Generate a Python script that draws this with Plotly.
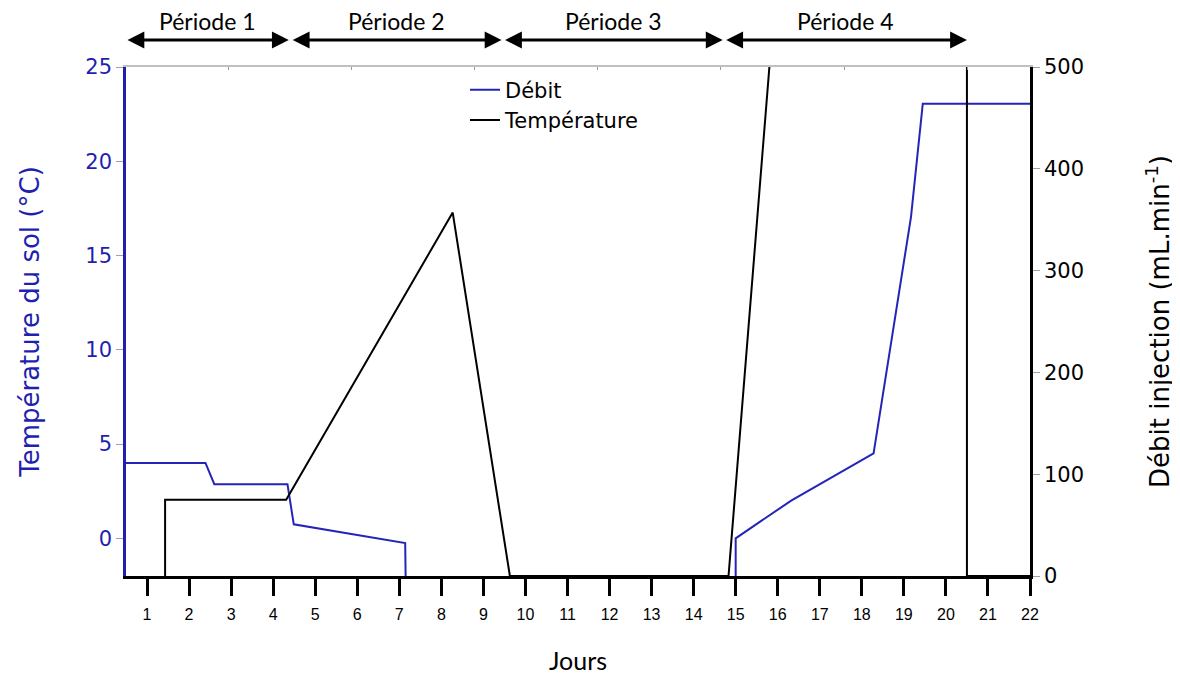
import plotly.graph_objects as go

# ---- data ----
days = list(range(1, 23))
debit_x = [0.5, 2.39, 2.60, 4.34, 4.49, 7.14, 7.15, None, 15.0, 15.0, 16.32, 18.28, 19.17, 19.45, 22]
debit_y = [4.0, 4.0, 2.87, 2.87, 0.74, -0.25, -2.0, None, -2.0, 0.0, 2.0, 4.5, 17.05, 23.05, 23.05]
temp_x = [1.43, 1.43, 4.31, 8.27, 9.63, 14.83, 15.86, 20.5, 20.5, 22]
temp_y = [0, 75, 75, 357, 0, 0, 530, 530, 0, 0]
period_labels = ["Période 1", "Période 2", "Période 3", "Période 4"]
period_start = [0.5, 4.43, 9.48, 14.74]
period_end = [4.37, 9.43, 14.69, 20.5]
top_ticks = [2.93, 5.86, 8.79, 11.72, 14.65, 17.58, 20.51]

BLUE = "#1f1fb0"
fig = go.Figure()
fig.add_trace(go.Scatter(x=debit_x, y=debit_y, mode="lines", name="Débit",
                         line=dict(color="#2424b8", width=2), yaxis="y", connectgaps=False))
fig.add_trace(go.Scatter(x=temp_x, y=temp_y, mode="lines", name="Température",
                         line=dict(color="black", width=2), yaxis="y2"))
# dummy trace for top border axis
fig.add_trace(go.Scatter(x=[1], y=[None], xaxis="x2", yaxis="y", showlegend=False,
                         hoverinfo="skip"))

annotations = []
for lab, s, e in zip(period_labels, period_start, period_end):
    annotations.append(dict(x=e, y=1.053, xref="x", yref="paper", ax=s, ay=0,
                            axref="x", ayref="pixel", text="", showarrow=True,
                            arrowhead=2, arrowside="end+start", arrowsize=1.2,
                            arrowwidth=2.8, arrowcolor="black", standoff=0, startstandoff=0))
    annotations.append(dict(x=(s + e) / 2, y=1.09, xref="x", yref="paper", text=lab,
                            xanchor="center", yanchor="middle", showarrow=False,
                            font=dict(family="Lato", size=23, color="black")))

fig.update_layout(
    width=1180, height=681,
    margin=dict(l=118, r=158, t=59, b=113),
    plot_bgcolor="white", paper_bgcolor="white",
    showlegend=True,
    legend=dict(x=0.375, y=0.995, xanchor="left", yanchor="top", bgcolor="rgba(0,0,0,0)",
                font=dict(family="DejaVu Sans", size=21, color="black"),
                itemwidth=30, tracegroupgap=0),
    xaxis=dict(range=[0.5, 22], tickvals=days, ticks="outside", ticklen=17, tickwidth=2.5,
               tickcolor="black", showline=True, linecolor="black", linewidth=2.5,
               showgrid=False, zeroline=False, ticklabelstandoff=5,
               tickfont=dict(family="Liberation Sans", size=16, color="black"),
               title=dict(text="Jours", font=dict(family="Lato", size=25, color="black"),
                          standoff=31)),
    xaxis2=dict(range=[0.5, 22], overlaying="x", side="top", anchor="y",
                tickvals=top_ticks, ticks="inside", ticklen=3, tickcolor="#999999",
                showticklabels=False, showline=True, linecolor="#c0c0c0", linewidth=1.5,
                showgrid=False, zeroline=False),
    yaxis=dict(range=[-2, 25], tickvals=[0, 5, 10, 15, 20, 25], ticks="outside", ticklen=7,
               tickcolor="#a0a0a0", tickwidth=1, showline=True, linecolor=BLUE, linewidth=2.5,
               showgrid=False, zeroline=False,
               tickfont=dict(family="DejaVu Sans", size=21, color=BLUE),
               title=dict(text="Température du sol (°C)",
                          font=dict(family="DejaVu Sans", size=26, color=BLUE), standoff=39)),
    yaxis2=dict(range=[0, 500], tickvals=[0, 100, 200, 300, 400, 500], overlaying="y",
                side="right", ticks="outside", ticklen=7, tickcolor="#a0a0a0", tickwidth=1,
                showline=True, linecolor="black", linewidth=2.5, showgrid=False, zeroline=False,
                tickfont=dict(family="DejaVu Sans", size=21, color="black"),
                title=dict(text="Débit injection (mL.min<sup>-1</sup>)",
                           font=dict(family="DejaVu Sans", size=26, color="black"), standoff=68)),
    annotations=annotations,
)

fig.write_html("out.html")
